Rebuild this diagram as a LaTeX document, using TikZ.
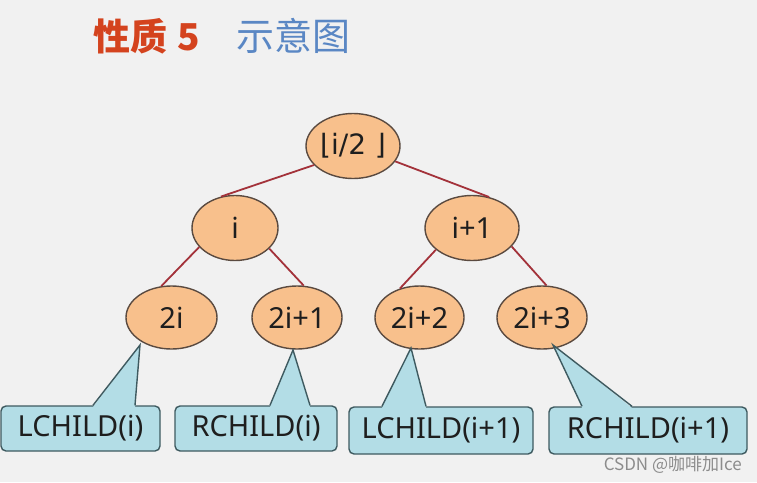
\documentclass[tikz,border=0pt]{standalone}
\usepackage{fontspec}
\setmainfont{Noto Sans}
\newfontfamily\cjk{Noto Sans CJK SC}
\newfontfamily\dejavu{DejaVu Sans}
\usetikzlibrary{shapes.geometric}
\definecolor{bgc}{HTML}{F1F1F1}
\definecolor{nodefill}{HTML}{F8C08C}
\definecolor{nodeline}{HTML}{5A4A40}
\definecolor{edgec}{HTML}{A3323A}
\definecolor{callfill}{HTML}{B3DDE6}
\definecolor{callline}{HTML}{3E5A60}
\definecolor{titlered}{HTML}{D4431E}
\definecolor{titleblue}{HTML}{5A87C4}
\definecolor{txt}{HTML}{1E1E1E}
\tikzset{
  tnode/.style={ellipse, draw=nodeline, fill=nodefill, line width=1.4pt, inner sep=0pt,
    text=txt, font=\fontsize{29}{34}\selectfont},
  edge/.style={draw=edgec, line width=1.8pt},
  callbox/.style={rectangle, rounded corners=5pt, draw=callline, fill=callfill, line width=1.4pt,
    inner sep=0pt, text=txt, font=\fontsize{29}{34}\selectfont},
  callptr/.style={draw=callline, line width=1.4pt, line join=miter},
}
\begin{document}
\begin{tikzpicture}[x=1pt,y=-1pt]
\fill[bgc] (0,0) rectangle (757,482);
\useasboundingbox (0,0) rectangle (757,482);

% title
\node[anchor=base west, inner sep=0pt, text=titlered, font=\cjk\bfseries\fontsize{37}{42}\selectfont] (t1) at (93,50) {性质\hspace{10pt}5};
\node[anchor=base west, inner sep=0pt, text=titleblue, font=\cjk\fontsize{38}{42}\selectfont] (t2) at (236,50) {示意图};

% tree nodes
\node[tnode, minimum width=94pt, minimum height=65pt] (root) at (353,146) {\dejavu\fontsize{28}{32}\selectfont ⌊i/2 ⌋};
\node[tnode, minimum width=86pt, minimum height=65pt] (ni) at (235,228) {i};
\node[tnode, minimum width=94pt, minimum height=65pt] (nj) at (472,228) {i+1};
\node[tnode, minimum width=91pt, minimum height=63pt] (a) at (171.5,317.5) {2i};
\node[tnode, minimum width=90pt, minimum height=63pt] (b) at (297,317.5) {2i+1};
\node[tnode, minimum width=89pt, minimum height=63pt] (c) at (419.5,317.5) {2i+2};
\node[tnode, minimum width=90pt, minimum height=63pt] (d) at (542,317.5) {2i+3};

% edges
\draw[edge] (root.206) -- (ni.114);
\draw[edge] (root.340) -- (nj.61);
\draw[edge] (ni.208) -- (a.108);
\draw[edge] (ni.329) -- (b.78);
\draw[edge] (nj.211) -- (c.124);
\draw[edge] (nj.335) -- (d.82);

% callout boxes
\node[callbox, minimum width=159pt, minimum height=45pt] (l1) at (80.5,428.5) {LCHILD(i)};
\node[callbox, minimum width=162pt, minimum height=45pt] (r1) at (256,428.5) {RCHILD(i)};
\node[callbox, minimum width=184pt, minimum height=47pt] (l2) at (441,430.5) {LCHILD(i+1)};
\node[callbox, minimum width=198pt, minimum height=47pt] (r2) at (648,430.5) {RCHILD(i+1)};

% pointer tips
\coordinate (p1) at (140,345);
\coordinate (p2) at (293,350);
\coordinate (p3) at (411,348);
\coordinate (p4) at (553,345);

% pointer bases
\coordinate (l1a) at (93,0 |- l1.north);
\coordinate (l1b) at (135,0 |- l1.north);
\coordinate (r1a) at (270,0 |- r1.north);
\coordinate (r1b) at (310,0 |- r1.north);
\coordinate (l2a) at (382,0 |- l2.north);
\coordinate (l2b) at (426,0 |- l2.north);
\coordinate (r2a) at (582,0 |- r2.north);
\coordinate (r2b) at (632,0 |- r2.north);

\foreach \ba/\tp/\bb in {l1a/p1/l1b, r1a/p2/r1b, l2a/p3/l2b, r2a/p4/r2b}{
  \fill[callfill] ([yshift=-1.6pt]\ba) -- (\tp) -- ([yshift=-1.6pt]\bb) -- cycle;
  \draw[callptr] (\ba) -- (\tp) -- (\bb);
}

% watermark
\node[anchor=base east, inner sep=0pt, text=black!45, font=\cjk\fontsize{17}{20}\selectfont] (wm) at (742,470) {CSDN @咖啡加Ice};
\end{tikzpicture}
\end{document}
